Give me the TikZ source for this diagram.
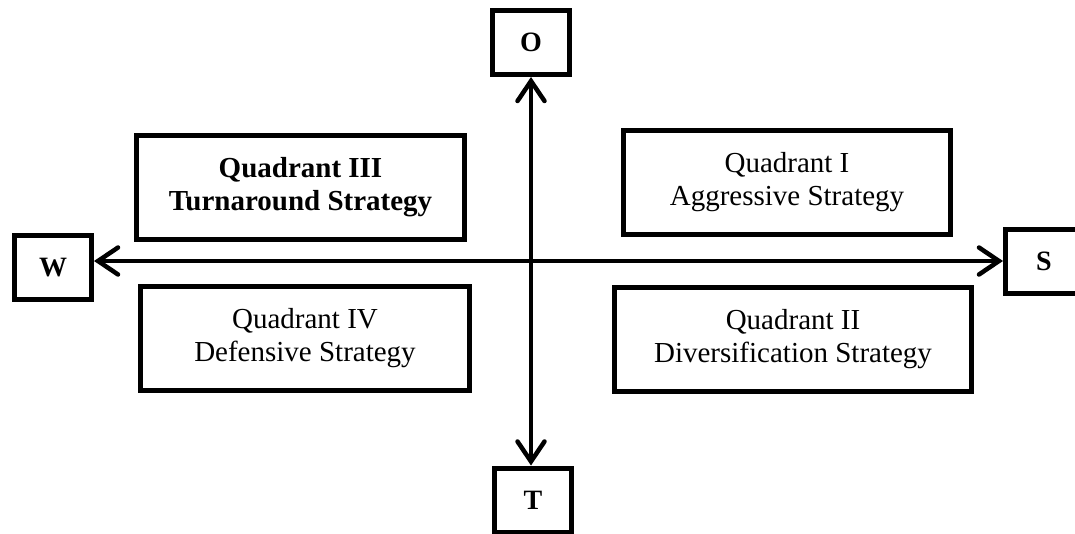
\documentclass[tikz,border=0pt]{standalone}
\usepackage{fontspec}
\setmainfont{Liberation Serif}
\usetikzlibrary{arrows.meta}

\begin{document}
\begin{tikzpicture}[x=1pt,y=-1pt,
  quad/.style={draw, line width=5pt, align=center, inner sep=0pt,
    minimum height=104pt, font=\fontsize{29}{33}\selectfont},
  pole/.style={draw, line width=5pt, inner sep=0pt, minimum width=77pt,
    minimum height=64pt, font=\fontsize{28}{32}\selectfont\bfseries},
  axis/.style={line width=4.5pt,
    {Straight Barb[length=20pt,width=27pt,line cap=round]}-{Straight Barb[length=20pt,width=27pt,line cap=round]}}]
\useasboundingbox (0,0) rectangle (1075,533);

\node [pole] (O) at (531,42.5) {O};
\node [pole] (T) at (533,500) {T};
\node [pole] (W) at (53,267.5) {W};
\node [pole] (S) at (1044,261) {S};

\node [quad, minimum width=328pt, font=\fontsize{29}{33}\selectfont\bfseries] (q3) at (300.5,187.5) {Quadrant III\\Turnaround Strategy};
\node [quad, minimum width=327pt] (q1) at (787,182.5) {Quadrant I\\Aggressive Strategy};
\node [quad, minimum width=329pt] (q4) at (305,338.5) {Quadrant IV\\Defensive Strategy};
\node [quad, minimum width=357pt] (q2) at (793,339) {Quadrant II\\Diversification Strategy};

\draw [axis] (O.south) -- (O.south |- T.north);
\draw [axis] (S.west -| W.east) -- (S.west);
\end{tikzpicture}
\end{document}
